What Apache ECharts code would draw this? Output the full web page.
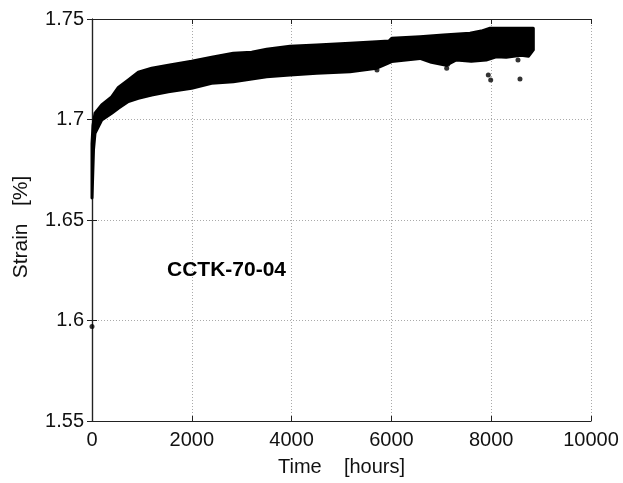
<!DOCTYPE html>
<html><head><meta charset="utf-8">
<script src="https://cdn.jsdelivr.net/npm/echarts@6/dist/echarts.min.js"></script>
<style>html,body{margin:0;padding:0;background:#fff}#c{width:623px;height:483px}</style>
</head><body><div id="c"></div>
<script>
// Upper edge of the dense measurement band
const upperTime   = [0, 20, 60, 194, 394, 528, 728, 928, 1196, 1530, 1997, 2400, 2832, 3200, 3500, 3968, 4503, 5170, 5705, 5950, 6006, 6573, 7040, 7575, 7800, 7976, 8377, 8844];
const upperStrain = [1.688, 1.697, 1.7031, 1.7072, 1.7113, 1.716, 1.7197, 1.7235, 1.7255, 1.727, 1.729, 1.731, 1.733, 1.7335, 1.735, 1.7365, 1.7371, 1.7379, 1.7387, 1.739, 1.7404, 1.7412, 1.742, 1.7429, 1.744, 1.7454, 1.7454, 1.7454];
// Lower edge of the band
const lowerTime   = [0, 30, 60, 194, 394, 528, 728, 928, 1196, 1530, 1997, 2397, 2832, 3500, 3968, 4503, 5170, 5705, 6006, 6573, 6800, 7100, 7300, 7600, 7900, 8100, 8300, 8600, 8750, 8844];
const lowerStrain = [1.661, 1.685, 1.6931, 1.6997, 1.7031, 1.7056, 1.7089, 1.7105, 1.7122, 1.7138, 1.7155, 1.718, 1.7188, 1.7213, 1.7221, 1.723, 1.7238, 1.7255, 1.7288, 1.7304, 1.7285, 1.727, 1.7296, 1.729, 1.7296, 1.7312, 1.731, 1.732, 1.7315, 1.7346];
// Isolated points
const outlierTime   = [0, 5711, 7108, 7128, 7942, 7990, 8136, 8537, 8577, 8737];
const outlierStrain = [1.597, 1.7246, 1.7255, 1.7275, 1.7221, 1.7197, 1.7326, 1.7296, 1.7201, 1.7329];

const xMin = 0, xMax = 10000, xStep = 2000;
const yMin = 1.55, yMax = 1.75, yStep = 0.05;
const label = 'CCTK-70-04';

const chart = echarts.init(document.getElementById('c'));
const fontFam = '"Liberation Sans", Arial, Helvetica, sans-serif';
const axisCommon = {
  axisLine: {show: true, lineStyle: {color: '#222', width: 1.2}},
  axisTick: {show: true, inside: true, length: 5, lineStyle: {color: '#222'}},
  splitLine: {show: false}
};
chart.setOption({
  animation: false,
  backgroundColor: '#fff',
  grid: {left: 92, top: 19, right: 32, bottom: 62, containLabel: false},
  xAxis: [
    Object.assign({}, axisCommon, {
      type: 'value', min: xMin, max: xMax, interval: xStep, position: 'bottom',
      name: 'Time    [hours]', nameLocation: 'middle', nameGap: 36,
      nameTextStyle: {fontFamily: fontFam, fontSize: 20, color: '#111'},
      axisLabel: {fontFamily: fontFam, fontSize: 20, color: '#111', margin: 9,
        formatter: v => String(v)},
      splitLine: {show: true, lineStyle: {color: '#aaa', type: [1, 2], width: 1}}
    }),
    Object.assign({}, axisCommon, {
      type: 'value', min: xMin, max: xMax, interval: xStep, position: 'top',
      axisLabel: {show: false}
    })
  ],
  yAxis: [
    Object.assign({}, axisCommon, {
      type: 'value', min: yMin, max: yMax, interval: yStep, position: 'left',
      name: 'Strain   [%]', nameLocation: 'middle', nameGap: 60,
      nameTextStyle: {fontFamily: fontFam, fontSize: 21, color: '#111', padding: [0, 14, 0, 0]},
      axisLabel: {fontFamily: fontFam, fontSize: 20, color: '#111', margin: 8,
        formatter: v => String(+v.toFixed(2))},
      splitLine: {show: true, lineStyle: {color: '#aaa', type: [1, 2], width: 1}}
    }),
    Object.assign({}, axisCommon, {
      type: 'value', min: yMin, max: yMax, interval: yStep, position: 'right',
      axisLabel: {show: false}
    })
  ],
  series: [
    {
      type: 'custom',
      xAxisIndex: 0, yAxisIndex: 0,
      data: [[0]],
      renderItem: function (params, api) {
        const pts = [];
        for (let i = 0; i < upperTime.length; i++) pts.push(api.coord([upperTime[i], upperStrain[i]]));
        for (let i = lowerTime.length - 1; i >= 0; i--) pts.push(api.coord([lowerTime[i], lowerStrain[i]]));
        return {
          type: 'polygon',
          shape: {points: pts, smooth: 0},
          style: {fill: '#000', stroke: '#000', lineWidth: 3, lineJoin: 'round'}
        };
      },
      z: 3
    },
    {
      type: 'scatter',
      xAxisIndex: 0, yAxisIndex: 0,
      symbol: 'circle', symbolSize: 5,
      itemStyle: {color: '#000'},
      data: outlierTime.map((t, i) => [t, outlierStrain[i]]),
      z: 4
    }
  ],
  graphic: [{
    type: 'text', left: 167, top: 260, z: 10,
    style: {text: label, fontFamily: fontFam, fontSize: 21, fontWeight: 'bold', fill: '#000'}
  }]
});
</script>
</body></html>
